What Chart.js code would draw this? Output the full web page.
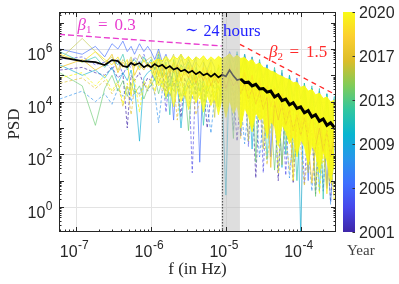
<!DOCTYPE html>
<html>
<head>
<meta charset="utf-8">
<script src="https://cdn.jsdelivr.net/npm/chart.js@4.4.1/dist/chart.umd.min.js"></script>
<style>
  html, body { margin: 0; padding: 0; background: #fff; }
  #wrap { width: 399px; height: 284px; }
</style>
</head>
<body>
<div id="wrap"><canvas id="psdChart"></canvas></div>
<script>
// frequency grid in Hz (sparse FFT bins at the low end, ~log spaced above 1e-6)
const freq = [6.0e-8, 1.2e-7, 1.8e-7, 2.4e-7, 3.0e-7, 3.6e-7, 4.2e-7, 4.8e-7, 5.4e-7, 6.0e-7, 7.0e-7, 8.0e-7, 9.0e-7,
  1.0e-6, 1.12e-6, 1.26e-6, 1.41e-6, 1.58e-6, 1.78e-6, 2.0e-6, 2.24e-6, 2.51e-6, 2.82e-6,
  3.16e-6, 3.55e-6, 3.98e-6, 4.47e-6, 5.01e-6, 5.62e-6, 6.31e-6, 7.08e-6, 7.94e-6, 8.91e-6,
  1.0e-5, 1.12e-5, 1.26e-5, 1.41e-5, 1.58e-5, 1.78e-5, 2.0e-5, 2.24e-5, 2.51e-5, 2.82e-5,
  3.16e-5, 3.55e-5, 3.98e-5, 4.47e-5, 5.01e-5, 5.62e-5, 6.31e-5, 7.08e-5, 7.94e-5, 8.91e-5,
  1.0e-4, 1.12e-4, 1.26e-4, 1.41e-4, 1.58e-4, 1.78e-4, 2.0e-4, 2.24e-4, 2.51e-4, 2.82e-4];

// PSD per year, stored as log10(PSD) on the grid above
const psd2001 = [5.2,5.3,5.1,5.0,5.3,4.9,5.1,3.0,5.0,4.8,5.1,4.6,4.9, 4.8,5.3,4.7,5.1,4.4,5.2,4.6,5.0,3.4,4.9,4.5,5.0,4.3,4.8,4.6,3.0,4.2,4.8,4.5,4.7,4.4,
  4.8,4.4,2.5,4.3,4.5,4.0,4.3,1.1,4.2,3.8,4.0,3.7,3.9,1.0,3.7,3.4,3.5,0.9,3.3,3.0,3.2,2.8,2.9,0.5,2.8,2.5,2.6,0.2,2.4];
const psd2003 = [5.6,5.7,5.4,5.5,5.2,5.6,5.0,5.4,5.3,5.7,5.5,5.8,5.4, 5.5,5.2,5.7,5.3,3.6,5.1,5.5,5.0,5.4,5.2,5.3,1.3,5.2,4.9,5.1,4.8,5.2,4.7,5.0,4.9,5.0,
  5.3,2.9,5.2,4.8,5.0,2.3,4.9,4.4,4.7,1.3,4.5,4.1,4.4,3.9,4.3,1.2,4.1,3.5,3.9,3.4,0.9,3.3,3.6,3.0,3.4,0.6,3.2,2.8,3.0];
const psd2005 = [6.0,5.8,6.1,5.7,6.2,6.0,6.3,5.9,6.1,5.8,6.2,5.9,6.1, 5.9,5.6,6.0,5.5,5.8,5.3,3.3,5.4,5.8,5.2,5.6,5.3,5.7,1.7,5.5,5.2,5.6,5.3,3.8,5.2,5.4,
  5.9,5.5,5.8,2.7,5.8,5.2,5.7,5.1,5.5,4.9,5.4,1.9,5.2,4.5,5.1,4.4,4.9,4.2,4.9,4.1,4.6,1.0,4.5,3.8,4.4,3.6,0.7,3.4,4.1];
const psd2007 = [4.1,4.4,4.0,4.3,3.9,4.5,4.2,4.6,4.0,4.4,4.3,4.7,4.4, 4.7,4.3,3.2,4.4,4.8,4.2,4.7,4.5,4.9,4.3,4.6,4.1,4.7,4.4,4.6,3.9,2.8,4.2,4.6,4.0,4.4,
  4.8,4.3,4.6,4.0,2.4,3.8,4.2,3.6,1.9,3.4,3.9,3.3,3.8,1.4,3.6,3.0,1.1,2.8,3.3,2.8,3.1,2.3,0.6,2.6,2.7,2.2,2.5,0.1,2.3];
const psd2009 = [5.4,5.0,5.2,4.9,5.3,4.7,5.1,4.8,5.2,4.6,2.5,4.9,5.1, 5.2,4.8,5.3,4.9,5.1,4.6,5.2,4.7,3.0,4.5,4.9,4.6,5.0,4.4,4.8,4.3,4.7,4.5,4.6,4.2,0.45,
  5.6,5.1,5.8,5.2,5.7,4.9,2.2,4.8,5.5,4.6,5.4,4.5,5.2,4.3,1.5,4.1,5.0,3.9,4.8,-1.0,4.7,3.6,4.5,3.4,0.6,3.2,4.3,2.9,4.2];
const psd2011 = [5.9,5.5,5.7,5.3,5.6,5.4,5.8,5.2,5.5,5.6,5.3,5.7,5.4, 5.6,5.2,5.8,5.0,5.5,3.5,5.6,4.9,5.4,5.1,5.5,4.8,5.3,5.0,3.1,4.7,5.2,4.9,5.3,4.6,5.1,
  5.7,4.9,5.9,5.1,5.8,4.8,5.7,4.6,5.6,4.5,1.8,4.2,5.3,4.0,5.2,2.0,5.0,3.8,1.0,3.6,4.7,3.3,4.6,3.1,4.5,0.3,4.3,2.6,4.2];
const psd2013 = [5.1,4.6,3.1,4.5,5.0,4.4,4.8,4.2,4.7,4.3,4.6,4.1,4.5, 4.6,4.9,4.3,4.8,4.1,4.7,4.4,4.9,4.2,4.6,2.9,4.7,4.3,4.5,4.0,4.6,4.2,4.4,3.8,4.5,4.1,
  4.9,2.6,5.7,4.3,5.6,4.2,5.5,1.7,5.3,3.7,5.2,3.6,1.4,3.4,4.9,3.2,4.8,1.7,4.7,3.0,4.5,2.8,4.4,0.4,4.3,2.3,4.1,1.0,4.1];
const psd2015 = [5.6,6.4,5.9,5.5,5.7,5.2,5.6,5.4,5.7,5.3,5.8,5.5,5.6, 5.7,5.4,5.9,5.3,5.6,5.5,5.8,5.2,5.6,5.4,5.7,5.1,5.5,5.3,5.6,5.0,5.5,3.4,5.4,5.1,5.3,
  5.5,5.0,5.3,4.8,5.2,2.5,5.0,4.5,4.9,2.2,4.7,4.2,4.6,4.0,1.6,3.8,4.3,3.6,4.1,3.5,3.9,1.3,3.8,3.2,3.6,3.0,0.8,2.8,3.3];
const psd2016 = [4.7,4.9,4.5,4.8,4.3,4.7,3.8,4.6,3.5,4.5,4.2,4.7,4.4, 4.8,4.3,5.0,4.4,4.9,4.2,4.8,3.3,4.9,4.1,4.7,4.4,3.5,4.0,4.6,4.3,4.7,3.9,4.5,4.2,4.6,
  4.8,4.2,4.5,2.6,4.3,3.7,4.1,3.5,4.0,3.3,1.6,3.1,3.6,2.9,3.4,2.7,1.4,2.5,3.1,2.3,0.8,2.1,2.8,0.9,2.6,1.7,2.4,1.4,0.3];
const psd2017 = [5.3,5.6,5.2,5.4,5.8,5.1,5.5,5.3,5.6,5.0,5.4,5.2,5.5, 5.2,5.5,5.0,5.4,4.9,5.3,5.1,5.4,4.8,5.2,4.9,5.3,4.7,5.1,4.8,5.2,4.6,5.0,4.7,5.1,4.5,
  5.0,4.6,4.8,4.3,4.7,4.1,4.5,3.9,4.4,3.7,4.2,1.5,4.0,3.3,3.9,3.1,3.7,2.9,3.5,2.7,3.4,2.5,0.9,2.3,3.0,2.1,2.9,1.9,2.7];
const psd2019 = [5.8,5.5,5.9,5.6,5.4,5.7,5.3,5.6,4.2,5.5,5.2,5.6,5.3, 5.5,5.0,5.6,4.9,5.4,5.1,5.5,4.8,5.3,5.0,5.4,4.7,5.2,4.9,5.3,4.6,5.2,4.8,5.1,4.5,5.0,
  5.4,4.8,5.3,4.6,5.1,4.4,5.0,4.2,4.8,4.0,4.6,3.8,4.5,3.6,4.3,3.4,4.1,1.0,3.9,3.0,3.8,2.8,3.6,2.6,3.4,2.4,0.5,2.2,3.1];
const psd2020 = [4.9,5.1,4.6,5.0,4.4,4.8,3.9,4.7,4.3,4.9,3.6,4.8,4.5, 4.9,4.4,5.2,4.5,5.0,4.3,4.9,4.6,5.1,4.2,4.8,4.5,5.0,4.1,4.7,4.4,4.9,4.0,4.6,4.3,4.8,
  5.0,4.5,4.9,4.3,4.8,4.1,4.6,3.9,4.5,3.7,4.3,3.5,4.1,1.3,4.0,3.1,3.8,2.9,3.6,2.7,3.5,2.5,3.3,2.3,0.5,2.1,3.0,1.9,0.2];

// envelope of the dense recent-year spectra (log10 PSD, last 50 grid points, from 1e-6 Hz on)
const recentTop = [5.45,5.55,5.62,5.55,5.72,5.55,5.72,5.62,5.80,5.58, 5.72,5.55,5.70,5.60,5.74,5.56,5.70,5.58,5.72,5.62,
  5.70,5.82,5.66,5.76,5.64,5.68,5.52,5.60,5.40,5.47, 5.30,5.26,5.16,5.12,5.02,4.96,4.88,4.84,4.72,4.74,
  4.54,4.60,4.40,4.46,4.26,4.32,4.12,4.18,3.98,4.06];
const recentBottom = [5.15,4.90,4.60,4.75,4.20,4.55,3.80,4.50,4.00,4.40, 3.70,4.35,3.95,4.30,3.60,4.25,3.85,4.20,3.50,4.10,
  3.40,4.05,3.55,3.85,3.00,3.75,3.45,2.85,3.60,3.30, 3.40,2.60,3.25,3.05,2.30,3.10,2.85,2.40,2.70,1.90,
  2.55,2.30,1.60,2.35,2.05,1.30,2.10,1.75,0.90,1.65];

// mean over all years (log10 PSD)
const psdMean = [5.69,5.54,5.50,5.39,5.58,5.54,5.35,5.31,5.47,5.39,5.47,5.31,5.39,
  5.31,5.43,5.33,5.40,5.26,5.35,5.22,5.28,5.15,5.21,5.10,5.17,5.04,5.13,5.00,5.07,4.95,5.06,4.92,5.02,4.96,
  5.20,4.98,4.82,4.86,4.72,4.74,4.60,4.66,4.48,4.50,4.36,4.40,4.18,4.26,4.04,4.10,3.88,3.96,3.74,3.80,
  3.58,3.66,3.42,3.50,3.26,3.34,3.10,3.20,3.02];

// power-law guide lines
const beta1Freq = [5.87e-8, 8.76e-6];
const beta1Psd = [3.6e6, 1.3e6];
const beta2Freq = [1.54e-5, 2.965e-4];
const beta2Psd = [1.5e6, 1.8e4];

// shaded 24 hour band
const dayBand = [8.76e-6, 1.54e-5];

const xTickExps = [-7, -6, -5, -4];
const yTickExps = [0, 2, 4, 6];
const yearTicks = ['2001', '2005', '2009', '2013', '2017', '2020'];

const X_MIN = 5.87e-8, X_MAX = 2.965e-4, Y_MIN = 0.112, Y_MAX = 2.54e7;

const parulaStops = [[62,38,168],[71,71,235],[62,111,255],[39,150,235],[8,181,208],
  [49,198,159],[129,204,89],[220,189,41],[252,207,48],[249,251,21]];

function parula(t, a) {
  t = Math.min(1, Math.max(0, t));
  const s = t * (parulaStops.length - 1);
  const i = Math.min(Math.floor(s), parulaStops.length - 2);
  const f = s - i;
  const c = parulaStops[i].map((v, k) => Math.round(v + (parulaStops[i + 1][k] - v) * f));
  return `rgba(${c[0]},${c[1]},${c[2]},${a})`;
}

function points(fs, logs) {
  return logs.map((v, i) => ({ x: fs[i], y: Math.pow(10, v) }));
}

function yearLine(year, logs, order, dashed, alpha, width) {
  return {
    label: String(year),
    data: points(freq, logs),
    borderColor: parula((year - 2001) / 19, alpha),
    borderWidth: width,
    borderDash: dashed ? [3, 2] : [],
    pointRadius: 0,
    fill: false,
    order: order
  };
}

const bandFreq = freq.slice(freq.length - recentTop.length);

const datasets = [
  { label: 'beta1', data: points(beta1Freq, beta1Psd.map(Math.log10)), borderColor: '#e83ccf',
    borderWidth: 1.3, borderDash: [6, 3], pointRadius: 0, fill: false, order: 0 },
  { label: 'beta2', data: points(beta2Freq, beta2Psd.map(Math.log10)), borderColor: '#ff2a2a',
    borderWidth: 1.3, borderDash: [5, 4], pointRadius: 0, fill: false, order: 0 },
  { label: 'mean', data: points(freq, psdMean), borderColor: '#000', borderWidth: 1.7,
    segment: { borderWidth: (c) => (c.p0.parsed.x > 1.5e-5 ? 3 : 1.7) },
    pointRadius: 0, fill: false, order: 1 },
  yearLine(2020, psd2020, 2, true, 0.85, 0.9),
  yearLine(2019, psd2019, 3, false, 0.85, 0.9),
  yearLine(2017, psd2017, 4, false, 0.85, 0.9),
  { label: 'recentTop', data: points(bandFreq, recentTop), borderColor: 'rgba(249,251,21,0.9)',
    borderWidth: 1, pointRadius: 0, fill: '+1', order: 5,
    backgroundColor: (c) => {
      const chart = c.chart;
      if (!chart.chartArea) return 'rgba(249,251,21,0.9)';
      const xs = chart.scales.x;
      const g = chart.ctx.createLinearGradient(xs.getPixelForValue(1e-6), 0, xs.getPixelForValue(1.6e-5), 0);
      g.addColorStop(0, 'rgba(249,251,21,0.5)');
      g.addColorStop(1, 'rgba(249,251,21,0.95)');
      return g;
    } },
  { label: 'recentBottom', data: points(bandFreq, recentBottom), borderColor: 'rgba(249,251,21,0.9)',
    borderWidth: 0.8, pointRadius: 0, fill: false, order: 5 },
  yearLine(2016, psd2016, 6, true, 0.7, 0.9),
  yearLine(2015, psd2015, 7, false, 0.65, 0.9),
  yearLine(2013, psd2013, 8, false, 0.7, 0.9),
  yearLine(2011, psd2011, 9, false, 0.7, 0.9),
  yearLine(2009, psd2009, 10, false, 0.7, 0.9),
  yearLine(2007, psd2007, 11, true, 0.7, 0.9),
  yearLine(2005, psd2005, 12, false, 0.7, 0.9),
  yearLine(2003, psd2003, 13, true, 0.7, 0.9),
  yearLine(2001, psd2001, 14, true, 0.75, 0.9)
];

function drawPow(ctx, x, y, exp, align) {
  ctx.font = '16px "Liberation Sans"';
  const wBase = ctx.measureText('10').width;
  ctx.font = '12px "Liberation Sans"';
  const wExp = ctx.measureText(exp).width;
  const x0 = align === 'right' ? x - wBase - wExp - 0.5 : x;
  ctx.font = '16px "Liberation Sans"';
  ctx.fillText('10', x0, y);
  ctx.font = '12px "Liberation Sans"';
  ctx.fillText(exp, x0 + wBase + 0.5, y - 8);
}

function drawBeta(ctx, x, y, sub, value, color) {
  ctx.fillStyle = color;
  ctx.font = 'italic 17px "Liberation Serif"';
  ctx.fillText('β', x, y);
  const wb = ctx.measureText('β').width;
  ctx.font = '11px "Liberation Serif"';
  ctx.fillText(sub, x + wb, y + 3);
  ctx.font = '17px "Liberation Serif"';
  ctx.fillText('=', x + 20.5, y);
  ctx.fillText(value, x + 37, y);
}

const decor = {
  id: 'decor',
  beforeDatasetsDraw(chart) {
    const { ctx, chartArea: a, scales: { x, y } } = chart;
    ctx.save();
    ctx.strokeStyle = '#e3e3e3';
    ctx.lineWidth = 1;
    xTickExps.forEach(e => {
      const px = Math.round(x.getPixelForValue(Math.pow(10, e))) + 0.5;
      ctx.beginPath(); ctx.moveTo(px, a.top); ctx.lineTo(px, a.bottom); ctx.stroke();
    });
    yTickExps.forEach(e => {
      const py = Math.round(y.getPixelForValue(Math.pow(10, e))) + 0.5;
      ctx.beginPath(); ctx.moveTo(a.left, py); ctx.lineTo(a.right, py); ctx.stroke();
    });
    ctx.restore();
  },
  afterDatasetsDraw(chart) {
    const { ctx, chartArea: a, scales: { x } } = chart;
    const b0 = x.getPixelForValue(dayBand[0]);
    const b1 = x.getPixelForValue(dayBand[1]);
    ctx.save();
    ctx.fillStyle = 'rgba(190,190,190,0.5)';
    ctx.fillRect(b0, a.top, b1 - b0, a.bottom - a.top);
    ctx.strokeStyle = '#555';
    ctx.lineWidth = 1.2;
    ctx.setLineDash([1.5, 1.5]);
    ctx.beginPath(); ctx.moveTo(Math.round(b0) + 0.5, a.top); ctx.lineTo(Math.round(b0) + 0.5, a.bottom); ctx.stroke();
    ctx.restore();
  },
  afterDraw(chart) {
    const { ctx, chartArea: a, scales: { x, y } } = chart;
    ctx.save();
    // box
    ctx.strokeStyle = '#262626';
    ctx.lineWidth = 1;
    ctx.strokeRect(a.left + 0.5, a.top + 0.5, a.right - a.left - 1, a.bottom - a.top - 1);
    // inward ticks
    ctx.beginPath();
    for (let e = -8; e <= -3; e++) {
      for (let k = 1; k <= 9; k++) {
        const v = k * Math.pow(10, e);
        if (v < X_MIN || v > X_MAX) continue;
        const px = Math.round(x.getPixelForValue(v)) + 0.5;
        const len = k === 1 ? 5 : 2.5;
        ctx.moveTo(px, a.bottom); ctx.lineTo(px, a.bottom - len);
        ctx.moveTo(px, a.top); ctx.lineTo(px, a.top + len);
      }
    }
    for (let e = -1; e <= 7; e++) {
      for (let k = 1; k <= 9; k++) {
        const v = k * Math.pow(10, e);
        if (v < Y_MIN || v > Y_MAX) continue;
        const py = Math.round(y.getPixelForValue(v)) + 0.5;
        const len = k === 1 ? 5 : 2.5;
        ctx.moveTo(a.left, py); ctx.lineTo(a.left + len, py);
        ctx.moveTo(a.right, py); ctx.lineTo(a.right - len, py);
      }
    }
    ctx.stroke();

    // tick labels
    ctx.fillStyle = '#262626';
    ctx.textBaseline = 'alphabetic';
    ctx.textAlign = 'left';
    xTickExps.forEach(e => {
      const px = x.getPixelForValue(Math.pow(10, e));
      drawPow(ctx, px - 16.5, a.bottom + 25, String(e), 'left');
    });
    yTickExps.forEach(e => {
      const py = y.getPixelForValue(Math.pow(10, e));
      drawPow(ctx, a.left - 6.5, py + 11, String(e), 'right');
    });

    // axis titles
    ctx.font = '17px "Liberation Serif"';
    ctx.textAlign = 'center';
    ctx.fillText('f (in Hz)', (a.left + a.right) / 2, 274);
    ctx.save();
    ctx.translate(18.5, (a.top + a.bottom) / 2 + 2);
    ctx.rotate(-Math.PI / 2);
    ctx.fillText('PSD', 0, 0);
    ctx.restore();

    // annotations
    ctx.textAlign = 'left';
    drawBeta(ctx, x.getPixelForValue(1.04e-7), y.getPixelForValue(5.25e6), '1', '0.3', '#e83ccf');
    drawBeta(ctx, x.getPixelForValue(3.76e-5), y.getPixelForValue(4.97e5), '2', '1.5', '#ff2a2a');
    ctx.fillStyle = '#2323ff';
    const dx = x.getPixelForValue(2.83e-6), dy = y.getPixelForValue(3.12e6);
    ctx.font = '16px "DejaVu Serif"';
    ctx.fillText('∼', dx, dy - 1);
    ctx.font = '16px "Liberation Serif"';
    ctx.fillText('24', dx + 18.5, dy);
    ctx.font = '17px "Liberation Serif"';
    ctx.fillText('hours', dx + 38, dy);

    // colorbar
    const cx = a.right + 7, cw = 12;
    const grad = ctx.createLinearGradient(0, a.bottom, 0, a.top);
    parulaStops.forEach((c, i) => grad.addColorStop(i / (parulaStops.length - 1), `rgb(${c[0]},${c[1]},${c[2]})`));
    ctx.fillStyle = grad;
    ctx.fillRect(cx, a.top, cw, a.bottom - a.top);
    ctx.strokeStyle = '#333';
    ctx.fillStyle = '#262626';
    ctx.font = '16px "Liberation Sans"';
    ctx.beginPath();
    yearTicks.forEach((lab, i) => {
      const py = a.bottom - i / (yearTicks.length - 1) * (a.bottom - a.top);
      ctx.moveTo(cx + cw, Math.round(py) + 0.5); ctx.lineTo(cx + cw - 2.5, Math.round(py) + 0.5);
      ctx.fillText(lab, cx + cw + 4, py + 6);
    });
    ctx.stroke();
    ctx.fillStyle = '#404040';
    ctx.font = '15px "Liberation Serif"';
    ctx.fillText('Year', cx + 4, 255);
    ctx.restore();
  }
};

new Chart(document.getElementById('psdChart').getContext('2d'), {
  type: 'line',
  data: { datasets: datasets },
  options: {
    responsive: true,
    maintainAspectRatio: false,
    animation: false,
    events: [],
    layout: { padding: { left: 0, right: 63, top: 12, bottom: 0 } },
    elements: { line: { tension: 0 } },
    plugins: { legend: { display: false }, tooltip: { enabled: false } },
    scales: {
      x: {
        type: 'logarithmic', min: X_MIN, max: X_MAX,
        ticks: { display: false }, grid: { display: false }, border: { display: false },
        afterFit: (s) => { s.height = 52; }
      },
      y: {
        type: 'logarithmic', min: Y_MIN, max: Y_MAX,
        ticks: { display: false }, grid: { display: false }, border: { display: false },
        afterFit: (s) => { s.width = 59; }
      }
    }
  },
  plugins: [decor]
});
</script>
</body>
</html>
